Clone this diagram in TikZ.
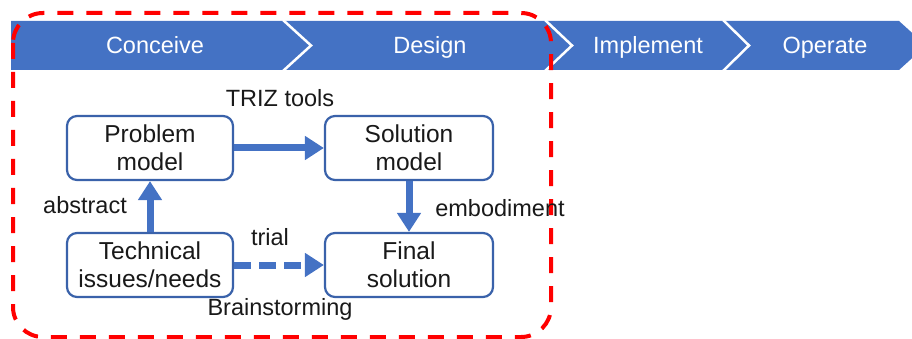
\documentclass[tikz,border=0pt]{standalone}
\usepackage{fontspec}
\setmainfont{Liberation Sans}
\usetikzlibrary{arrows.meta}
\definecolor{cblue}{HTML}{4472C4}
\definecolor{bborder}{HTML}{3A62AA}
\definecolor{cred}{HTML}{FF0000}
\tikzset{
  box/.style={draw=bborder, line width=2.2pt, fill=white, rounded corners=10pt,
    minimum height=64pt, inner sep=0pt, align=center,
    font=\fontsize{24.5}{28}\selectfont, text=black!90},
  lbl/.style={font=\fontsize{23.5}{27}\selectfont, text=black!90, inner sep=0pt},
  ctext/.style={font=\fontsize{23.5}{27}\selectfont, text=white, inner sep=0pt, anchor=base},
  arr/.style={draw=cblue, line width=7pt, -{Triangle[width=23pt,length=19pt]}},
  sep/.style={draw=white, line width=2.5pt},
}
\begin{document}
\begin{tikzpicture}[x=1pt,y=-1pt]
\useasboundingbox (0,0) rectangle (912,339);
\begin{scope}
\clip (0,0) rectangle (912,339);
% chevron bar
\fill[cblue] (11,21) -- (899,21) -- (926,45.5) -- (899,70) -- (11,70) -- cycle;
\draw[sep] (283,20) -- (311,45.5) -- (283,71);
\draw[sep] (545,20) -- (572,45.5) -- (545,71);
\draw[sep] (723,20) -- (749,45.5) -- (723,71);
\end{scope}
\node[ctext] (c1) at (155,54) {Conceive};
\node[ctext] (c2) at (430,54) {Design};
\node[ctext] (c3) at (648,54) {Implement};
\node[ctext] (c4) at (825,54) {Operate};
% red dashed frame
\draw[cred, line width=4pt, dash pattern=on 16pt off 13pt, rounded corners=30pt]
  (13,13) rectangle (551,337);
% boxes
\node[box, minimum width=166pt] (prob) at (150,148) {Problem\\model};
\node[box, minimum width=168pt] (sol) at (409,148) {Solution\\model};
\node[box, minimum width=166pt] (tech) at (150,265) {Technical\\issues/needs};
\node[box, minimum width=168pt] (fin) at (409,265) {Final\\solution};
% arrows
\draw[arr] (prob.east) -- (sol.west);
\draw[arr] (tech.north) -- (prob.south);
\draw[arr] (sol.south) -- (fin.north);
\draw[arr, dash pattern=on 17pt off 8pt] (tech.east) -- (fin.west);
% labels
\node[lbl] (triz) at (280,98) {TRIZ tools};
\node[lbl] (abs) at (85,205) {abstract};
\node[lbl] (emb) at (500,208) {embodiment};
\node[lbl] (trial) at (270,237) {trial};
\node[lbl] (brain) at (280,309) {Brainstorming};
\end{tikzpicture}
\end{document}
